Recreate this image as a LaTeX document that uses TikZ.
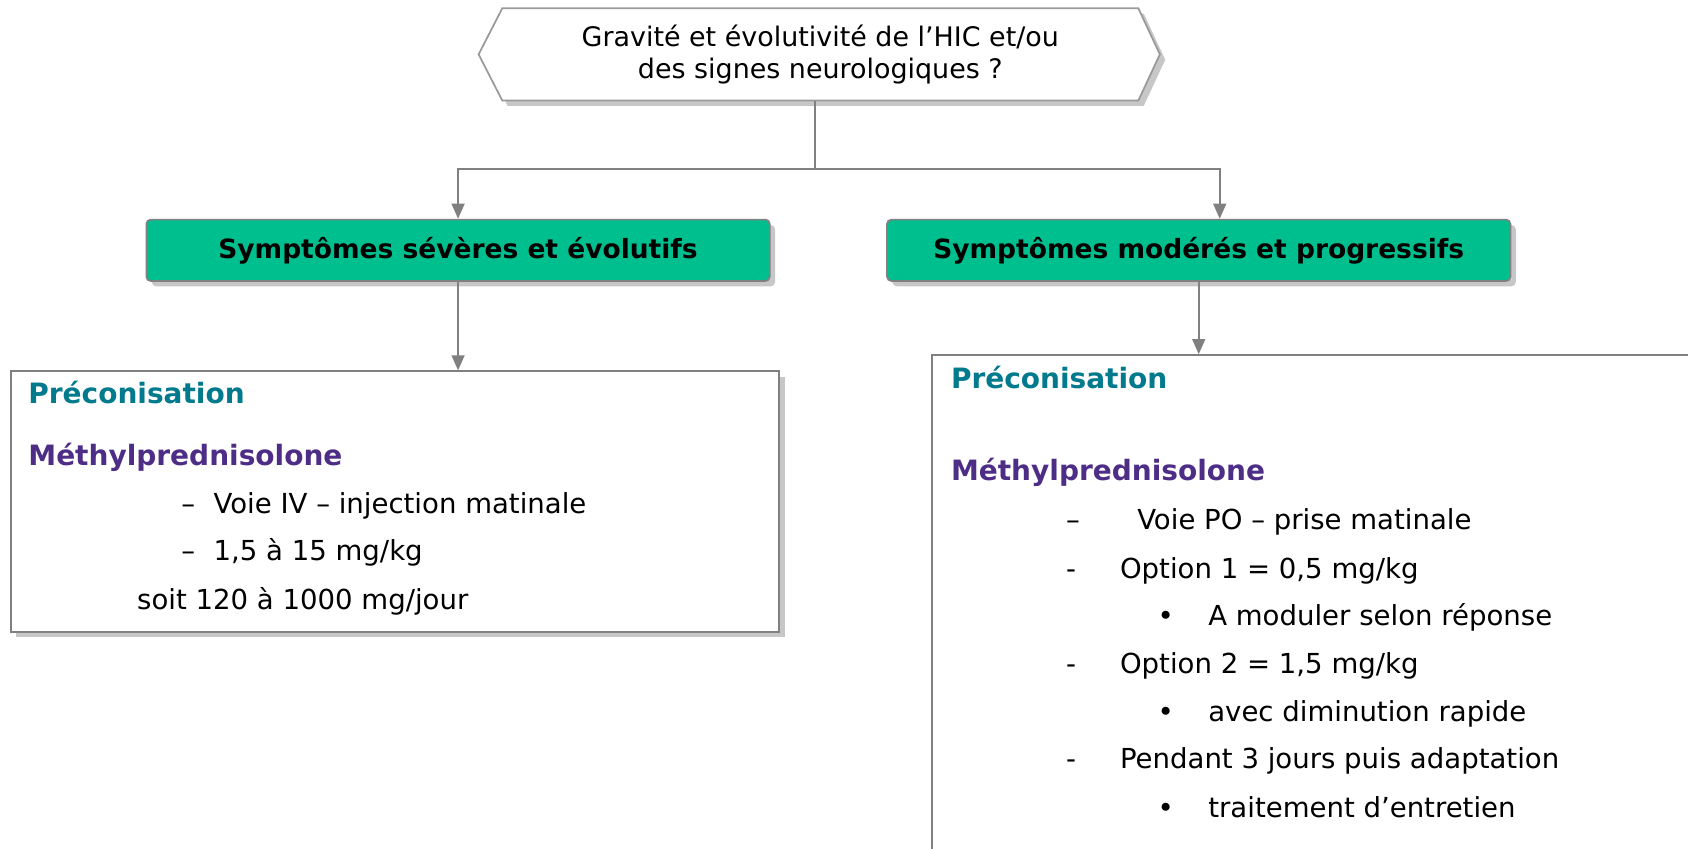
\documentclass[tikz,border=0pt]{standalone}
\usepackage{fontspec}
\setmainfont{DejaVu Sans}
\usetikzlibrary{arrows.meta,shadows,backgrounds}

\definecolor{symgreen}{RGB}{0,191,143}
\definecolor{preteal}{RGB}{0,122,140}
\definecolor{medpurple}{RGB}{78,45,134}
\definecolor{linegray}{RGB}{128,128,128}

\tikzset{
  shade/.style={drop shadow={shadow xshift=2.5pt, shadow yshift=-2.5pt, opacity=0.22, fill=black}},
  sympt/.style={draw=linegray, line width=0.8pt, fill=symgreen, rounded corners=2pt, shade,
    minimum width=289.5pt, minimum height=28.5pt, font=\fontsize{12.3}{15}\selectfont\bfseries},
  reco/.style={draw=linegray, line width=1pt, fill=white, shade},
  link/.style={draw=linegray, line width=0.8pt},
  arrow/.style={link, -{Triangle[length=7pt,width=6pt]}},
  txt/.style={anchor=base west, inner sep=0pt, font=\fontsize{12.8}{15}\selectfont},
  pre/.style={txt, font=\fontsize{13}{15}\selectfont\bfseries, text=preteal},
  drug/.style={txt, font=\fontsize{13}{15}\selectfont\bfseries, text=medpurple},
}

\begin{document}
\begin{tikzpicture}[x=0.5pt,y=-0.5pt]
  \useasboundingbox (0,0) rectangle (1568,788);
  \clip (0,0) rectangle (1568,788);
  % question
  \node[inner sep=0pt, minimum width=295pt, minimum height=42.5pt, align=center,
    font=\fontsize{12.5}{15}\selectfont] (question) at (762,50.5)
    {\raisebox{-1.5pt}{Gravité et évolutivité de l’HIC et/ou}\\\raisebox{-1.5pt}{des signes neurologiques ?}};
  \begin{scope}[on background layer]
    \draw[draw=linegray!80, line width=0.8pt, fill=white, shade]
      (question.north west) -- (question.north east) -- ([xshift=10pt]question.east)
      -- (question.south east) -- (question.south west) -- ([xshift=-11pt]question.west) -- cycle;
  \end{scope}
  % symptoms
  \node[sympt] (severe) at (425.5,232.5) {Symptômes sévères et évolutifs};
  \node[sympt] (moderate) at (1113.5,232.5) {Symptômes modérés et progressifs};
  \coordinate (split) at (757,157);
  \draw[link] (question.south -| split) -- (split);
  \draw[arrow] (split) -| (severe.north);
  \draw[arrow] (split) -| ([xshift=9.75pt]moderate.north);
  % recommendations
  \node[reco, minimum width=357pt, minimum height=121pt] (reco1) at (367,466) {};
  \node[reco, minimum width=367pt, minimum height=245pt] (reco2) at (1233,575) {};
  \draw[arrow] (severe.south) -- (severe.south |- reco1.north);
  \draw[arrow] (moderate.south) -- (moderate.south |- reco2.north);
  % left box
  \node[pre] (pre1) at (26,375) {Préconisation};
  \node[drug] (drug1) at (26,432) {Méthylprednisolone};
  \node[txt] (dash11) at (168,477) {–};
  \node[txt] (item11) at (198,477) {Voie IV – injection matinale};
  \node[txt] (dash12) at (168,521) {–};
  \node[txt] (item12) at (198,521) {1,5 à 15 mg/kg};
  \node[txt] (item13) at (127,566) {soit 120 à 1000 mg/jour};
  % right box
  \node[pre] (pre2) at (883,361) {Préconisation};
  \node[drug] (drug2) at (883,446) {Méthylprednisolone};
  \foreach \y/\m/\x [count=\k] in {492/–/990, 537/-/990, 581/•/1075, 626/-/990,
      670/•/1075, 714/-/990, 759/•/1075} {
    \node[txt] (mark\k) at (\x,\y) {\m};
  }
  \node[txt] (item21) at (1056,492) {Voie PO – prise matinale};
  \node[txt] (item22) at (1040,537) {Option 1 = 0,5 mg/kg};
  \node[txt] (item23) at (1122,581) {A moduler selon réponse};
  \node[txt] (item24) at (1040,626) {Option 2 = 1,5 mg/kg};
  \node[txt] (item25) at (1122,670) {avec diminution rapide};
  \node[txt] (item26) at (1040,714) {Pendant 3 jours puis adaptation};
  \node[txt] (item27) at (1122,759) {traitement d’entretien};
\end{tikzpicture}
\end{document}
